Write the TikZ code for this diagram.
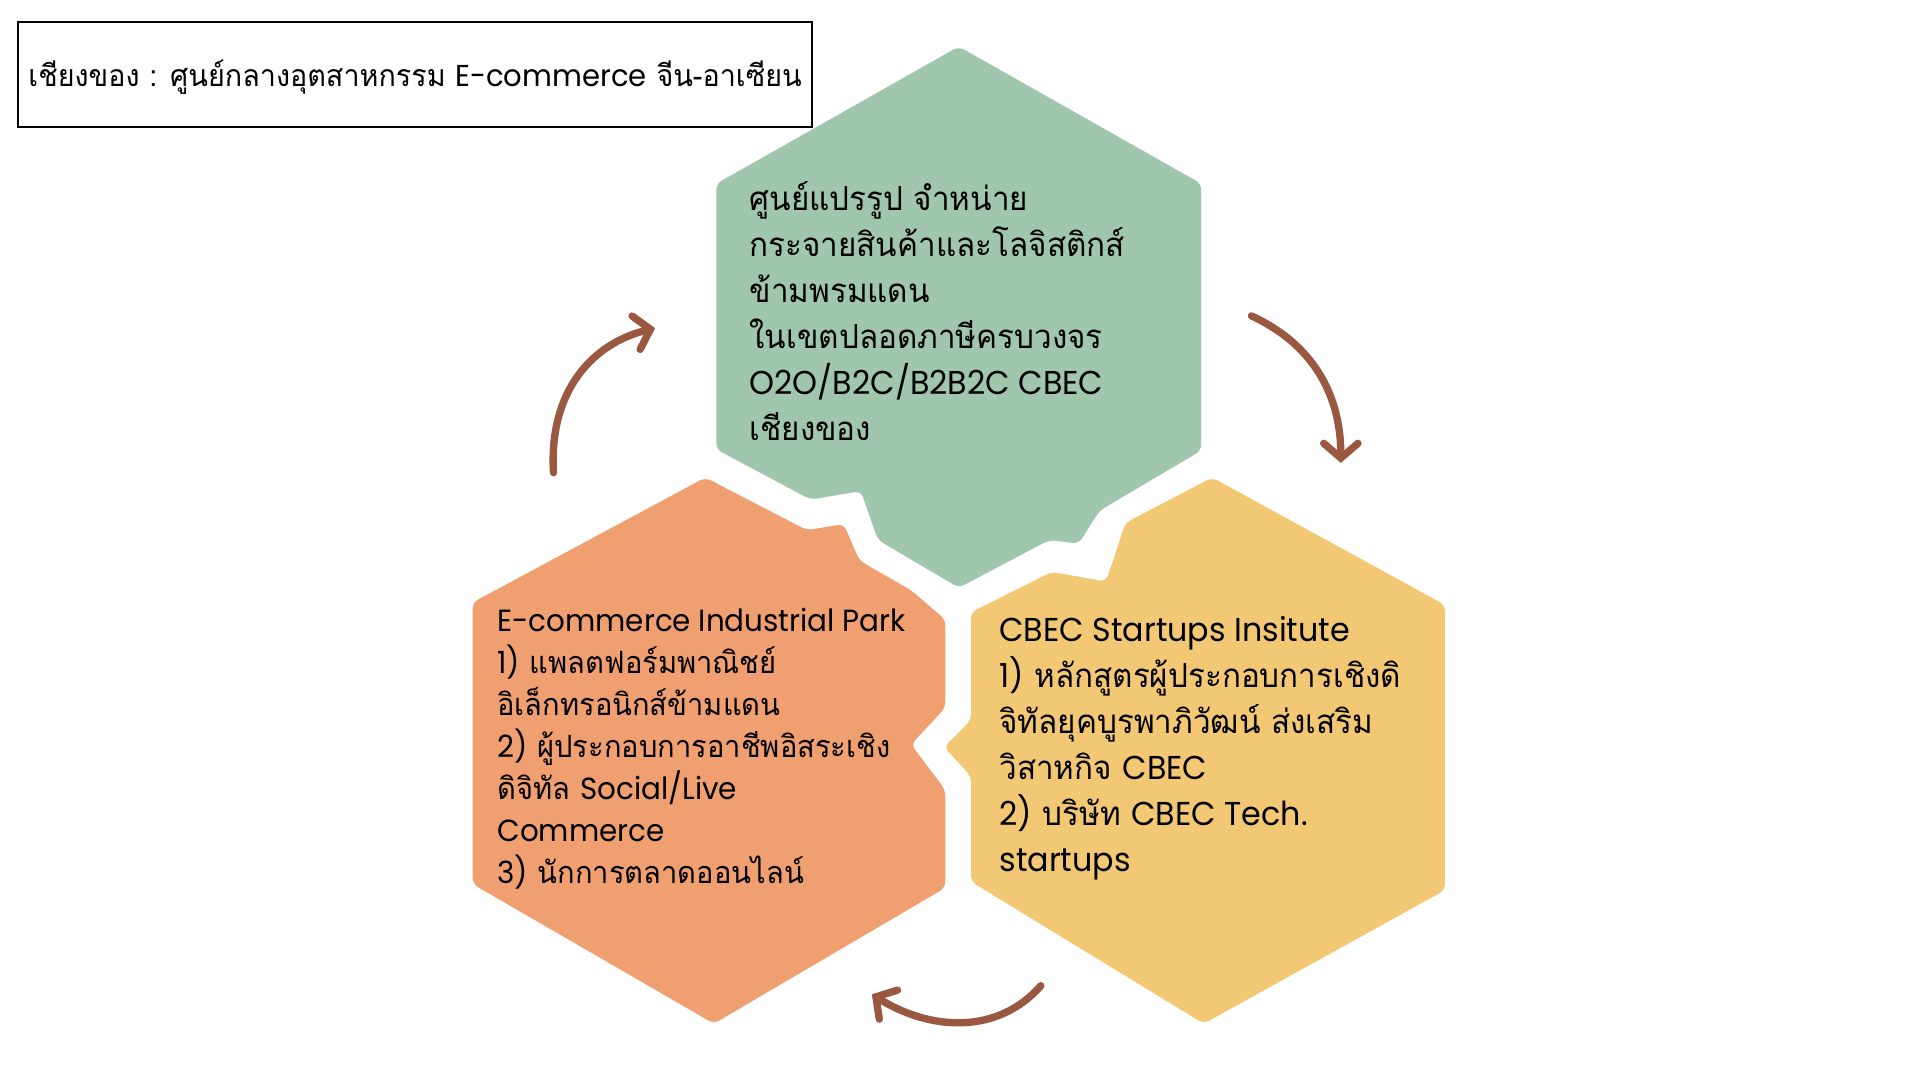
\documentclass[tikz,border=0pt]{standalone}
\usepackage{fontspec}
\setmainfont[Script=Thai, FakeStretch=0.95]{Loma}
\newfontfamily\lat[FakeStretch=0.96]{Poppins}
\usetikzlibrary{arrows.meta}
\definecolor{hexgreen}{HTML}{A0C7AE}
\definecolor{hexorange}{HTML}{F09F71}
\definecolor{hexyellow}{HTML}{F3C874}
\definecolor{arrowbrown}{HTML}{9B5840}
\newcommand{\en}[1]{{\lat #1}}
\newcommand{\blocktext}[3]{\parbox[t]{440pt}{\raggedright\fontsize{#1}{#2}\selectfont #3}}
\begin{document}
\begin{tikzpicture}[x=1pt,y=-1pt,
  hexa/.style={rounded corners=5pt},
  cyc/.style={draw=arrowbrown, line width=6pt, line cap=round,
    -{Straight Barb[length=12pt,width=28pt,line cap=round]}},
  txt/.style={anchor=base west, inner sep=0pt}]
\useasboundingbox (0,0) rectangle (1568,882);
\fill[white] (0,0) rectangle (1568,882);

% title
\node[draw=black, line width=1.5pt, minimum width=648pt, minimum height=86pt, inner sep=0pt] (titlebox) at (339,61) {};
\node[anchor=base, inner sep=0pt] (title) at (339,71) {\fontsize{24.7pt}{28pt}\selectfont เชียงของ : ศูนย์กลางอุตสาหกรรม \en{E-commerce} จีน-อาเซียน};

% hexagons
\fill[hexgreen, hexa] (783,38) -- (981,150) -- (981,368) -- (898,417) -- (881,444) -- (857,441) -- (783,480) -- (717,441) -- (703,401) -- (662,408) -- (585,367) -- (585,150) -- cycle;
\fill[hexorange, hexa] (576,390) -- (659,433) -- (689,428) -- (702,458) -- (744,482) -- (772,506) -- (772,578) -- (744,608) -- (772,645) -- (772,725) -- (583,836) -- (386,722) -- (386,492) -- cycle;
\fill[hexyellow, hexa] (990,390) -- (1180,494) -- (1180,727) -- (983,836) -- (793,720) -- (793,634) -- (771,610) -- (793,588) -- (793,500) -- (859,467) -- (903,475) -- (910,455) -- (919,427) -- cycle;

% texts
\node[txt] (greentext) at (612,172) {\blocktext{27pt}{37.5pt}{ศูนย์แปรรูป จำหน่าย\\ กระจายสินค้าและโลจิสติกส์\\ ข้ามพรมแดน\\ ในเขตปลอดภาษีครบวงจร\\ \en{O2O/B2C/B2B2C CBEC}\\ เชียงของ}};
\node[txt] (orangetext) at (406,516) {\blocktext{25pt}{34.3pt}{\en{E-commerce Industrial Park}\\ \en{1)} แพลตฟอร์มพาณิชย์\\ อิเล็กทรอนิกส์ข้ามแดน\\ \en{2)} ผู้ประกอบการอาชีพอิสระเชิง\\ ดิจิทัล \en{Social/Live}\\ \en{Commerce}\\ \en{3)} นักการตลาดออนไลน์}};
\node[txt] (yellowtext) at (816,524) {\blocktext{27pt}{37.6pt}{\en{CBEC Startups Insitute}\\ \en{1)} หลักสูตรผู้ประกอบการเชิงดิ\\ จิทัลยุคบูรพาภิวัฒน์ ส่งเสริม\\ วิสาหกิจ \en{CBEC}\\ \en{2)} บริษัท \en{CBEC Tech.}\\ \en{startups}}};

% cycle arrows
\coordinate (a1s) at (452,386);
\coordinate (a1e) at (535,268);
\coordinate (a2s) at (1022,258);
\coordinate (a2e) at (1095,378);
\coordinate (a3s) at (850,805);
\coordinate (a3e) at (712,812);
\draw[cyc] (a1s) .. controls (448,318) and (485,280) .. (a1e);
\draw[cyc] (a2s) .. controls (1070,280) and (1095,320) .. (a2e);
\draw[cyc] (a3s) .. controls (815,845) and (760,842) .. (a3e);
\end{tikzpicture}
\end{document}
